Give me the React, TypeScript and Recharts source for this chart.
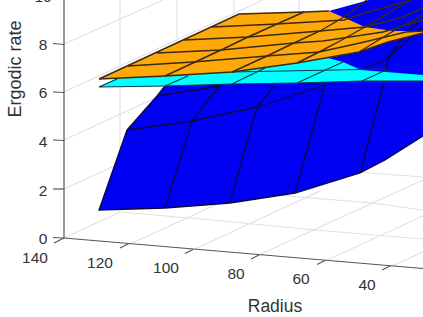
import { ReferenceDot, Scatter, ScatterChart, XAxis, YAxis } from 'recharts';

type Pair = [number, number];

// Everything lives on the projected plane of the 3D view (horizontal, vertical)
const wallRows: Pair[][] = [
  [[64, 44], [163, 0]],
  [[64, 92], [263, 0]],
  [[64, 140], [299, 32]],
  [[64, 189], [299, 81]],
];
const wallColumns: Pair[][] = [
  [[120, 0], [120, 212]],
  [[177, 0], [177, 186]],
  [[234, 0], [234, 160]],
  [[299, 0], [299, 130]],
];
const floorRows: Pair[][] = [
  [[120, 212], [212, 220], [315, 230], [423, 239]],
  [[177, 186], [300, 197], [372, 203], [423, 210]],
  [[234, 160], [369, 173], [423, 177]],
];
const floorColumns: Pair[][] = [
  [[64, 238], [120, 212]],
  [[128, 245], [250, 189]],
  [[193, 250], [320, 191]],
  [[259, 255], [423, 180]],
  [[325, 261], [423, 216]],
  [[390, 267], [423, 252]],
];
const axisLines: Pair[][] = [
  [[64, 0], [64, 238]],
  [[64, 238], [423, 268.5]],
  [[53, 43.5], [64, 44.5]],
  [[53, 92], [64, 92.5]],
  [[53, 140], [64, 140.5]],
  [[53, 189], [64, 189]],
  [[53, 237.5], [64, 238]],
  [[64, 238], [54, 243]],
  [[128, 244], [120, 248]],
  [[193, 249.5], [185, 253.5]],
  [[259, 255], [251, 259]],
  [[325, 260.5], [317, 264.5]],
  [[390, 266], [382, 270]],
];

const blueOutline: Pair[] = [
  [99, 210], [165, 208], [230, 203], [295, 193], [360, 173], [385, 160], [423, 136],
  [423, 0], [369, 0], [329, 11], [240, 40], [165, 86], [157, 96], [127, 130], [99, 210],
];
const blueLines: Pair[][] = [
  [[127, 130], [99, 210], [165, 208], [230, 203], [295, 193], [360, 173], [385, 160], [423, 136]],
  [[127, 130], [157, 96], [165, 86]],
  [[127, 130], [192, 121], [257, 107], [325, 85]],
  [[157, 96], [220, 86]],
  [[165, 208], [192, 121], [208, 100], [220, 86]],
  [[230, 203], [257, 107], [275, 85]],
  [[295, 193], [325, 85]],
  [[360, 173], [384, 83]],
  [[362, 70], [388, 58], [410, 38], [423, 27]],
  [[384, 83], [388, 58], [406, 33], [423, 18]],
];

const cyanOutline: Pair[] = [
  [99, 87], [165, 86], [232, 84], [297, 83], [362, 81], [423, 81],
  [423, 75], [361, 70], [343, 62], [328, 58], [232, 70], [117, 78], [99, 87],
];
const cyanLines: Pair[][] = [
  [[117, 79], [99, 87], [165, 86], [232, 84], [297, 83], [362, 81], [423, 81]],
  [[232, 72], [386, 69]],
  [[165, 86], [188, 76]],
  [[232, 84], [265, 68]],
  [[297, 83], [343, 62]],
  [[362, 81], [386, 70]],
];

const orangeOutline: Pair[] = [
  [99, 79], [239, 14], [329, 11], [365, 27], [393, 31], [423, 31], [423, 33],
  [388, 42], [359, 52], [328, 58], [297, 63], [232, 72], [165, 76], [99, 79],
];
const orangeLines: Pair[][] = [
  [[99, 79], [239, 14], [304, 12], [329, 11]],
  [[99, 79], [165, 76], [232, 72], [297, 63], [359, 52], [388, 42], [423, 33]],
  [[128, 66], [193, 62], [267, 56], [319, 52], [360, 43], [406, 32], [423, 31]],
  [[157, 53], [221, 50], [294, 43], [323, 41], [383, 32], [423, 20]],
  [[184, 40], [248, 37], [320, 31], [365, 27], [403, 17], [423, 8]],
  [[212, 27], [277, 24], [344, 20], [365, 13], [411, 0]],
  [[165, 76], [193, 63], [221, 50], [248, 37], [277, 24], [304, 12]],
  [[232, 72], [267, 56], [294, 43], [320, 31], [344, 17], [367, 0]],
  [[297, 63], [319, 52], [340, 41], [365, 27], [410, 0]],
  [[359, 52], [390, 33], [423, 15]],
];

const heightTicks = ['10', '8', '6', '4', '2', '0'];
const heightTickSpots: Pair[] = [[43, -4], [43, 44], [43, 92], [43, 141], [43, 190], [43, 238]];
const radiusTicks = ['140', '120', '100', '80', '60', '40'];
const radiusTickSpots: Pair[] = [[35, 257], [100, 262], [166, 267], [236, 273], [301, 278], [367, 284]];
const radiusTitleSpot: Pair = [275, 306];
const heightTitleSpot: Pair = [15, 69];

const FONT = '"Liberation Sans", Arial, sans-serif';
const INK = '#333333';

const toRows = (pairs: Pair[]) => pairs.map(([x, y]) => ({ x, y }));
const noDot = () => <g />;

function renderPolys(list: Pair[][], fill: string) {
  return list.map((pairs, i) => (
    <Scatter
      key={`${fill}-${i}`}
      data={toRows(pairs)}
      shape={noDot}
      isAnimationActive={false}
      line={{ fill, stroke: 'none' }}
    />
  ));
}

function renderLines(list: Pair[][], stroke: string, strokeWidth: number, name: string) {
  return list.map((pairs, i) => (
    <Scatter
      key={`${name}-${i}`}
      data={toRows(pairs)}
      shape={noDot}
      isAnimationActive={false}
      line={{ fill: 'none', stroke, strokeWidth }}
    />
  ));
}

function renderText(spot: Pair, value: string, fontSize: number, angle = 0) {
  return (
    <ReferenceDot
      key={value}
      x={spot[0]}
      y={spot[1]}
      r={0}
      fill="none"
      stroke="none"
      ifOverflow="visible"
      label={{ value, position: 'center', fontSize, angle, fill: INK, fontFamily: FONT }}
    />
  );
}

export default function App() {
  return (
    <div style={{ position: 'fixed', left: 0, top: 0, width: 423, height: 317, background: '#fff' }}>
      <ScatterChart width={423} height={317} margin={{ top: 0, right: 0, bottom: 0, left: 0 }}>
        <XAxis type="number" dataKey="x" domain={[0, 423]} hide />
        <YAxis type="number" dataKey="y" domain={[0, 317]} reversed hide />
        {renderLines(wallRows, '#e0e0e0', 1.1, 'wallRow')}
        {renderLines(wallColumns, '#e0e0e0', 1.1, 'wallCol')}
        {renderLines(floorRows, '#e0e0e0', 1.1, 'floorRow')}
        {renderLines(floorColumns, '#e0e0e0', 1.1, 'floorCol')}
        {renderLines(axisLines, '#555555', 1.2, 'axis')}
        {renderPolys([blueOutline], '#0000f5')}
        {renderLines(blueLines, '#0a0a3c', 1.3, 'blue')}
        {renderPolys([cyanOutline], '#00ffff')}
        {renderLines(cyanLines, '#063c48', 1.2, 'cyan')}
        {renderPolys([orangeOutline], '#ffa80a')}
        {renderLines(orangeLines, '#3a2a10', 1.4, 'orange')}
        {heightTicks.map((t, i) => renderText(heightTickSpots[i], t, 15.5))}
        {radiusTicks.map((t, i) => renderText(radiusTickSpots[i], t, 15.5))}
        {renderText(radiusTitleSpot, 'Radius', 17.5)}
        {renderText(heightTitleSpot, 'Ergodic rate', 18, -90)}
      </ScatterChart>
    </div>
  );
}
